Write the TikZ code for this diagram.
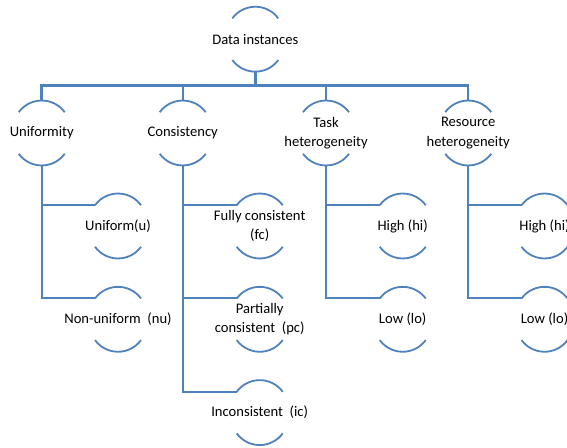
\documentclass[tikz,border=0pt]{standalone}
\usepackage{fontspec}
\setmainfont{Carlito}
\begin{document}
\begin{tikzpicture}[x=1pt,y=1pt,
  lbl/.style={inner sep=0pt,align=center,font=\fontsize{14.6}{19.5}\selectfont},
  arcline/.style={draw=linkblue,line width=1.8pt},
  conn/.style={draw=linkblue,line width=2pt},
  busline/.style={draw=linkblue,line width=2.5pt},
  stem/.style={draw=linkblue,line width=3pt}]
\definecolor{linkblue}{HTML}{4F81BD}
\useasboundingbox (0,0) rectangle (567,447);
\clip (0,0) rectangle (567,447);
% a label between a top and a bottom arc, with anchor points for the connectors
\newcommand\arcitem[3]{%
  \node[lbl] (#1) at (#2) {#3};
  \draw[arcline] ([shift={(-23pt,20.8pt)}]#1.center)
    arc[start angle=143.8,end angle=36.2,radius=28.5pt];
  \draw[arcline] ([shift={(-23pt,-20.8pt)}]#1.center)
    arc[start angle=216.2,end angle=323.8,radius=28.5pt];
  \coordinate (#1-in) at ([shift={(-23pt,20.8pt)}]#1.center);
  \coordinate (#1-top) at ([shift={(0pt,32.5pt)}]#1.center);
  \coordinate (#1-bot) at ([shift={(0pt,-32.5pt)}]#1.center);
}
% root
\arcitem{data}{255.3,407.8}{Data instances}
% first level
\arcitem{unif}{41.7,314}{Uniformity}
\arcitem{cons}{182.7,314}{Consistency}
\arcitem{task}{326,314}{Task\\heterogeneity}
\arcitem{res}{468.2,314}{Resource\\heterogeneity}
% second level
\arcitem{u}{118,221}{Uniform(u)}
\arcitem{nu}{118,127.7}{Non-uniform~~(nu)}
\arcitem{fc}{259.7,221}{Fully consistent\\(fc)}
\arcitem{pc}{259.7,127.7}{Partially\\consistent~~(pc)}
\arcitem{ic}{259.7,34.4}{Inconsistent~~(ic)}
\arcitem{thi}{402.7,221}{High (hi)}
\arcitem{tlo}{402.7,127.7}{Low (lo)}
\arcitem{rhi}{544.5,221}{High (hi)}
\arcitem{rlo}{544.5,127.7}{Low (lo)}
% bus under the root
\coordinate (bus) at (0,361.3);
\draw[stem] (data-bot) -- (data-bot |- bus);
\draw[busline] (unif-top) -- (unif-top |- bus) -| (res-top);
\draw[conn] (cons-top) -- (cons-top |- bus);
\draw[conn] (task-top) -- (task-top |- bus);
% branches to the second level
\draw[conn] (unif-bot) |- (nu-in);
\draw[conn] (unif-bot |- u-in) -- (u-in);
\draw[conn] (cons-bot) |- (ic-in);
\draw[conn] (cons-bot |- fc-in) -- (fc-in);
\draw[conn] (cons-bot |- pc-in) -- (pc-in);
\draw[conn] (task-bot) |- (tlo-in);
\draw[conn] (task-bot |- thi-in) -- (thi-in);
\draw[conn] (res-bot) |- (rlo-in);
\draw[conn] (res-bot |- rhi-in) -- (rhi-in);
\end{tikzpicture}
\end{document}
